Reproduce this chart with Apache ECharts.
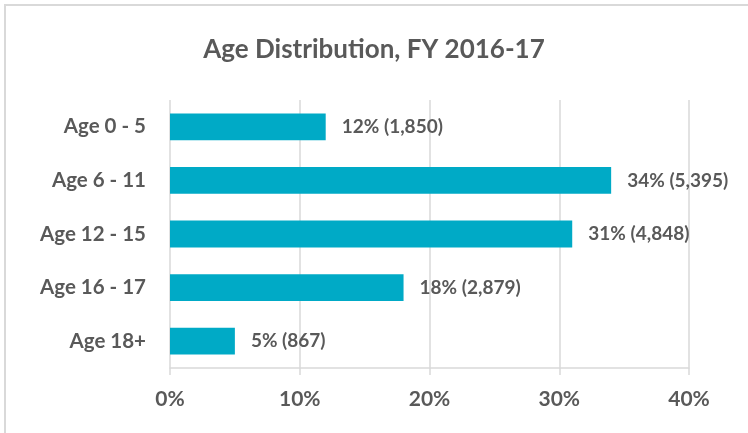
<!DOCTYPE html>
<html>
<head>
<meta charset="utf-8">
<script src="https://cdn.jsdelivr.net/npm/echarts@6/dist/echarts.min.js"></script>
<style>
  html, body { margin: 0; padding: 0; background: #fff; overflow: hidden; }
  #frame { position: absolute; left: 4px; top: 4px; width: 760px; height: 440px; border: 2px solid #d9d9d9; box-sizing: border-box; }
  #chart { position: absolute; left: 0; top: 0; width: 748px; height: 433px; }
</style>
</head>
<body>
<div id="frame"></div>
<div id="chart"></div>
<script type="text/javascript">
// data
var categories = ['Age 0 - 5', 'Age 6 - 11', 'Age 12 - 15', 'Age 16 - 17', 'Age 18+'];
var percents = [12, 34, 31, 18, 5];
var counts = ['1,850', '5,395', '4,848', '2,879', '867'];
var tickLabels = ['0%', '10%', '20%', '30%', '40%'];

var textColor = '#595959';
var font = 'Lato, "Open Sans", sans-serif';

var myChart = echarts.init(document.getElementById('chart'), null, { renderer: 'canvas' });
var option = {
    backgroundColor: 'transparent',
    animation: false,
    title: {
        text: 'Age Distribution, FY 2016-17',
        left: 'center',
        top: 32,
        textStyle: {
            color: textColor,
            fontSize: 26,
            fontWeight: 'bold',
            fontFamily: font
        }
    },
    grid: { left: 170, right: 59, top: 100, bottom: 65 },
    xAxis: {
        type: 'value',
        min: 0,
        max: 40,
        interval: 10,
        axisLine: { show: true, lineStyle: { color: '#d9d9d9', width: 1.5 } },
        axisTick: { show: true, length: 7, lineStyle: { color: '#d9d9d9', width: 1.5 } },
        splitLine: { show: true, lineStyle: { color: '#d9d9d9', width: 1.5 } },
        axisLabel: {
            margin: 21,
            color: textColor,
            fontSize: 21,
            fontWeight: 'bold',
            fontFamily: font,
            formatter: function (v) { return tickLabels[v / 10]; }
        }
    },
    yAxis: {
        type: 'category',
        inverse: true,
        data: categories,
        axisLine: { show: false },
        axisTick: { show: false },
        axisLabel: {
            margin: 24,
            color: textColor,
            fontSize: 20.5,
            fontWeight: 'bold',
            fontFamily: font
        }
    },
    series: [{
        type: 'bar',
        data: percents,
        barWidth: '50%',
        itemStyle: { color: '#00aac6' },
        label: {
            show: true,
            position: 'right',
            distance: 16,
            color: textColor,
            fontSize: 19,
            fontWeight: 'bold',
            fontFamily: font,
            formatter: function (p) { return p.value + '% (' + counts[p.dataIndex] + ')'; }
        }
    }]
};
myChart.setOption(option);
</script>
</body>
</html>
